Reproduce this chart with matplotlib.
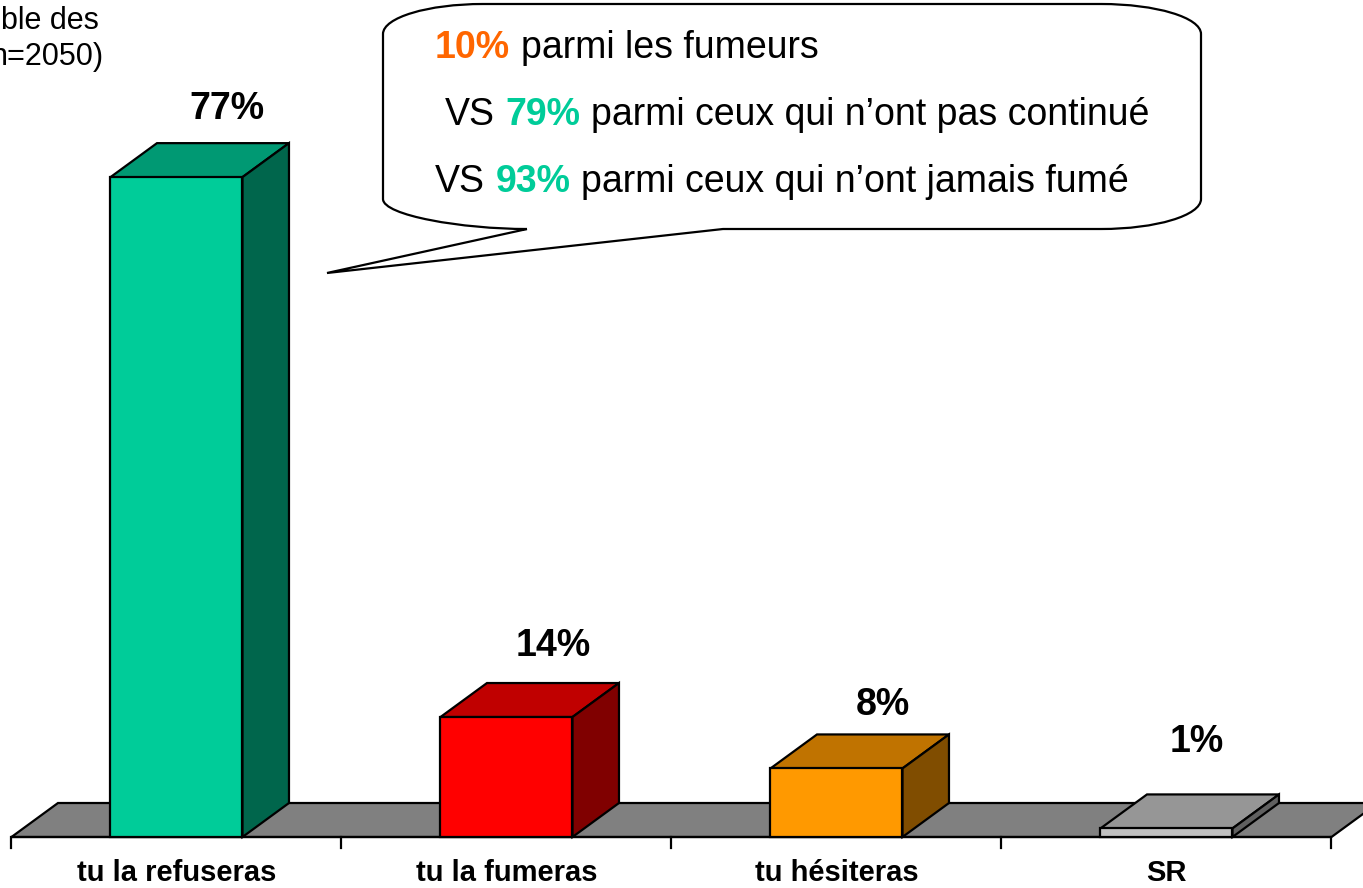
import numpy as np
import matplotlib
matplotlib.use("Agg")
import matplotlib.pyplot as plt
from matplotlib.patches import Polygon, PathPatch
from matplotlib.path import Path

plt.rcParams['font.family'] = ['Liberation Sans', 'DejaVu Sans']

# Survey answers and shares (%)
categories = ['tu la refuseras', 'tu la fumeras', 'tu hésiteras', 'SR']
values = [77, 14, 8, 1]
value_labels = ['77%', '14%', '8%', '1%']

# Callout content: (text, colour, weight) pieces per line
callout_lines = [
    [('10%', '#FF6600', 'bold'), ('parmi les fumeurs', 'black', 'normal')],
    [('VS', 'black', 'normal'), ('79%', '#00CC99', 'bold'),
     ('parmi ceux qui n\u2019ont pas continué', 'black', 'normal')],
    [('VS', 'black', 'normal'), ('93%', '#00CC99', 'bold'),
     ('parmi ceux qui n\u2019ont jamais fumé', 'black', 'normal')],
]
base_text = ['ble des', 'n=2050)']

# face colours: front, top, side
front_cols = ['#00CC99', '#FF0000', '#FF9900', '#C0C0C0']
top_cols = ['#009973', '#C00000', '#C07300', '#969696']
side_cols = ['#00664C', '#800000', '#804D00', '#606060']

W, H, DPI = 1363, 888, 100
fig = plt.figure(figsize=(W / DPI, H / DPI), dpi=DPI)
fig.patch.set_facecolor('white')

# main axes: x in category units, y in percent
ax = fig.add_axes([0, 0, 1, 1])
ax.set_xlim(-0.5348, 3.5955)
ax.set_ylim(-5.951, 97.67)
ax.axis('off')

bar_w = 0.4
dx, dy = 0.1409, 3.967  # 3D depth offset
x = np.arange(len(categories))

# floor
floor = Polygon([(-0.5, 0), (3.5, 0), (3.5 + dx, dy), (-0.5 + dx, dy)],
                closed=True, facecolor='#808080', edgecolor='black', lw=1.6, zorder=1)
ax.add_patch(floor)

# axis line and ticks
ax.plot([-0.5, 3.5], [0, 0], color='black', lw=1.6, zorder=2, solid_capstyle='butt')
for t in np.arange(-0.5, 3.6, 1.0):
    ax.plot([t, t], [0, -1.25], color='black', lw=1.6, zorder=2)

# bars: front faces plus top and side polygons
ax.bar(x, values, width=bar_w, color=front_cols, edgecolor='black', lw=1.6, zorder=4)
for xi, v, tc, sc in zip(x, values, top_cols, side_cols):
    l, r = xi - bar_w / 2, xi + bar_w / 2
    top = Polygon([(l, v), (r, v), (r + dx, v + dy), (l + dx, v + dy)],
                  closed=True, facecolor=tc, edgecolor='black', lw=1.6, zorder=3)
    side = Polygon([(r, 0), (r + dx, dy), (r + dx, v + dy), (r, v)],
                   closed=True, facecolor=sc, edgecolor='black', lw=1.6, zorder=3)
    ax.add_patch(top)
    ax.add_patch(side)

# value labels above each bar
label_dx = [0.012, 0.0, 0.0, -0.05]
label_dy = [6.8, 7.1, 6.2, 8.9]
for xi, v, lab, ldx, ldy in zip(x, values, value_labels, label_dx, label_dy):
    ax.text(xi + dx + ldx, v + ldy, lab, ha='center', va='baseline',
            fontsize=27, fontweight='bold', zorder=5)

# category labels
for xi, cat in zip(x, categories):
    ax.text(xi, -5.13, cat, ha='center', va='baseline',
            fontsize=21, fontweight='bold', zorder=5)

# overlay in pixel units for the callout and the base note
ov = fig.add_axes([0, 0, 1, 1], facecolor='none')
ov.set_xlim(0, W)
ov.set_ylim(H, 0)
ov.axis('off')

ov.text(99, 29, base_text[0], ha='right', va='baseline', fontsize=22)
ov.text(104, 65, base_text[1], ha='right', va='baseline', fontsize=22)

# speech bubble with rounded ends and a pointer
k = 0.55
L, R, T, B = 383, 1201, 4, 229
rx, ry = 100, 30
verts = [
    (527, B), (327, 273), (723, B),
    (R - rx, B),
    (R - rx + k * rx, B), (R, B - ry + k * ry), (R, B - ry),
    (R, T + ry),
    (R, T + ry - k * ry), (R - rx + k * rx, T), (R - rx, T),
    (L + rx, T),
    (L + rx - k * rx, T), (L, T + ry - k * ry), (L, T + ry),
    (L, B - ry),
    (L, B - ry + k * ry), (527 - 144 * (1 - k), B), (527, B),
]
codes = [Path.MOVETO, Path.LINETO, Path.LINETO, Path.LINETO,
         Path.CURVE4, Path.CURVE4, Path.CURVE4, Path.LINETO,
         Path.CURVE4, Path.CURVE4, Path.CURVE4, Path.LINETO,
         Path.CURVE4, Path.CURVE4, Path.CURVE4, Path.LINETO,
         Path.CURVE4, Path.CURVE4, Path.CURVE4]
bubble = PathPatch(Path(verts, codes), facecolor='white', edgecolor='black',
                   lw=1.6, zorder=6, joinstyle='miter')
ov.add_patch(bubble)

renderer = fig.canvas.get_renderer()
fs = 27
space = 0.278 * fs * DPI / 72
line_pos = [(435, 58), (445, 125), (435, 192)]
for (x0, y0), parts in zip(line_pos, callout_lines):
    cx = x0
    for txt, col, wt in parts:
        t = ov.text(cx, y0, txt, color=col, fontweight=wt, fontsize=fs,
                    ha='left', va='baseline', zorder=7)
        bb = t.get_window_extent(renderer)
        cx += bb.width + space

fig.savefig('out.png', dpi=DPI, facecolor='white')
